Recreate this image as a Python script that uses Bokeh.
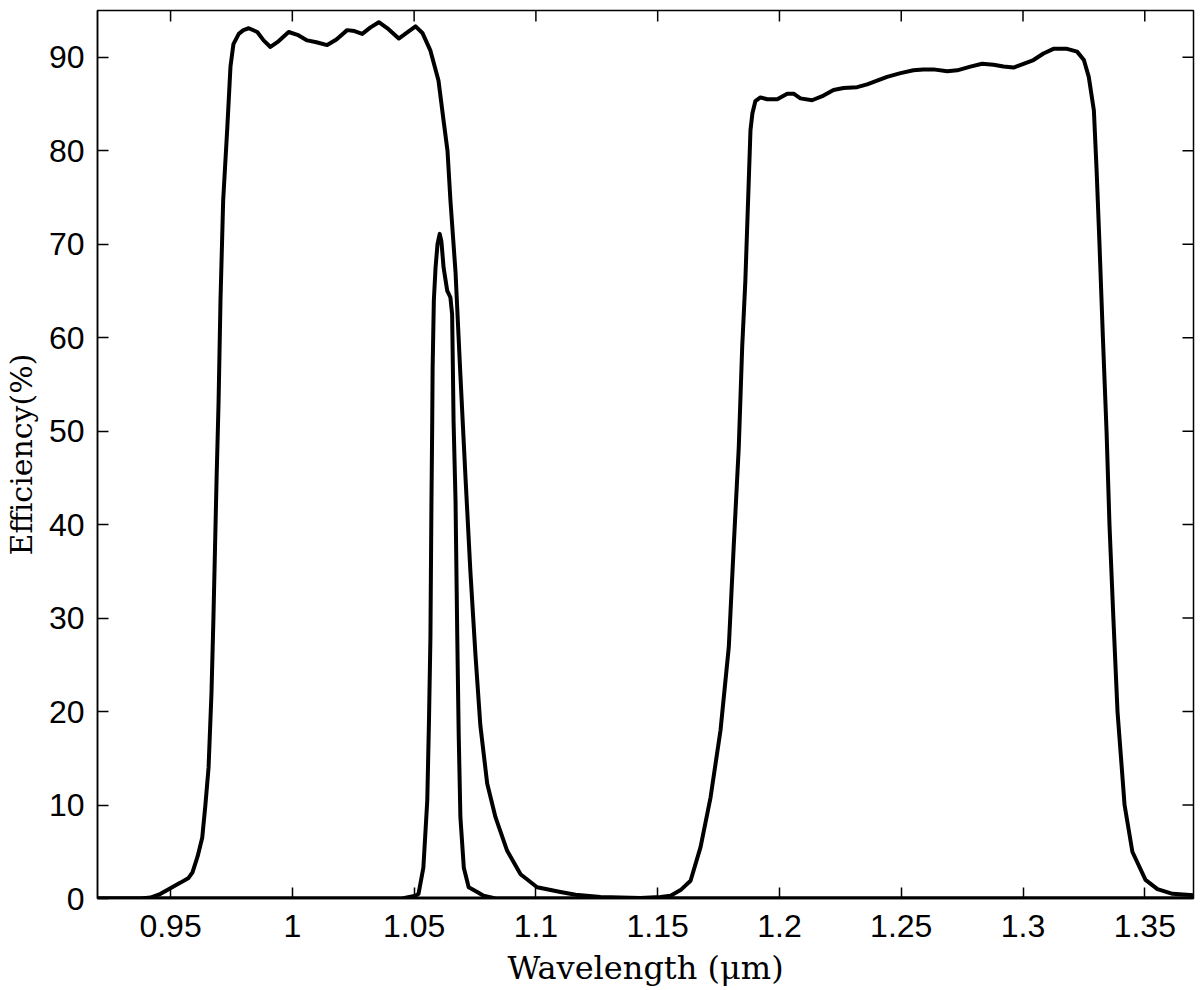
import math
from bokeh.plotting import figure
from bokeh.models import FixedTicker, CustomJSTickFormatter, Range1d
from bokeh.embed import file_html
from bokeh.resources import INLINE

# Curve A: broad band 0.96-1.08 um
wl_a = [0.92, 0.9377, 0.9418, 0.9459, 0.9492, 0.9541, 0.9574, 0.9590, 0.9611, 0.9630,
        0.9643, 0.9656, 0.9668, 0.9676, 0.9689, 0.9697, 0.9705, 0.9716, 0.9733, 0.9746,
        0.9758, 0.9780, 0.9799, 0.9821, 0.9856, 0.9882, 0.9910, 0.9943, 0.9985, 1.0021,
        1.0061, 1.0099, 1.0143, 1.0181, 1.0225, 1.0255, 1.0287, 1.0321, 1.0355, 1.0395,
        1.0437, 1.0469, 1.0506, 1.0534, 1.0567, 1.0600, 1.0621, 1.0637, 1.0649, 1.0670,
        1.0690, 1.0711, 1.0731, 1.0752, 1.0772, 1.0800, 1.0834, 1.0882, 1.0937, 1.1005,
        1.1101, 1.1163, 1.1265, 1.1429, 1.16, 1.37]
eff_a = [0.0, 0.0, 0.1, 0.5, 1.0, 1.7, 2.2, 2.8, 4.5, 6.5,
         10.0, 14.0, 22.0, 30.0, 45.0, 53.0, 64.0, 74.7, 82.5, 89.0,
         91.4, 92.5, 92.9, 93.1, 92.7, 91.8, 91.1, 91.7, 92.7, 92.4,
         91.8, 91.6, 91.3, 91.9, 92.9, 92.8, 92.5, 93.2, 93.75, 93.0,
         92.0, 92.6, 93.3, 92.6, 90.7, 87.5, 83.2, 80.0, 74.7, 67.0,
         56.0, 45.0, 35.0, 26.0, 18.5, 12.3, 8.7, 5.1, 2.6, 1.2,
         0.7, 0.4, 0.15, 0.05, 0.0, 0.0]

# Curve B: narrow band near 1.06 um
wl_b = [0.92, 1.045, 1.0506, 1.0518, 1.0538, 1.0554, 1.0561, 1.0567, 1.0571, 1.0574,
        1.0576, 1.0581, 1.0588, 1.0596, 1.0605, 1.0612, 1.0621, 1.0636, 1.0642, 1.0649,
        1.0656, 1.0659, 1.0662, 1.0670, 1.0677, 1.0683, 1.0690, 1.0704, 1.0724, 1.0759,
        1.0785, 1.0834, 1.37]
eff_b = [0.0, 0.0, 0.3, 0.5, 3.3, 10.5, 19.0, 28.0, 42.0, 50.0,
         56.8, 64.0, 67.5, 70.0, 71.1, 70.3, 67.5, 65.0, 64.7, 64.3,
         62.5, 57.0, 51.0, 42.6, 28.3, 17.6, 8.7, 3.3, 1.2, 0.7,
         0.3, 0.0, 0.0]

# Curve C: band 1.17-1.34 um
wl_c = [0.92, 1.13, 1.1429, 1.1512, 1.1553, 1.1594, 1.1635, 1.1676, 1.1717, 1.1758,
        1.1792, 1.1812, 1.1833, 1.1847, 1.1860, 1.1874, 1.1881, 1.1889, 1.1901, 1.1922,
        1.1950, 1.1991, 1.2032, 1.2058, 1.2086, 1.2134, 1.2181, 1.2222, 1.2263, 1.2319,
        1.2360, 1.2442, 1.2497, 1.2550, 1.2591, 1.2632, 1.2689, 1.2730, 1.2784, 1.2832,
        1.2879, 1.2920, 1.2961, 1.3002, 1.3043, 1.3084, 1.3125, 1.3181, 1.3222, 1.3250,
        1.3270, 1.3291, 1.3302, 1.3314, 1.3328, 1.3343, 1.3355, 1.3371, 1.3388, 1.3417,
        1.3449, 1.3503, 1.3552, 1.3614, 1.37]
eff_c = [0.0, 0.0, 0.05, 0.15, 0.3, 0.9, 1.9, 5.5, 10.8, 18.0,
         26.9, 37.6, 48.3, 59.0, 66.1, 76.8, 82.2, 84.0, 85.3, 85.7,
         85.5, 85.5, 86.1, 86.1, 85.6, 85.4, 85.9, 86.5, 86.7, 86.8,
         87.1, 87.9, 88.3, 88.6, 88.7, 88.7, 88.5, 88.6, 89.0, 89.3,
         89.2, 89.0, 88.9, 89.3, 89.7, 90.4, 90.9, 90.9, 90.6, 89.7,
         87.9, 84.3, 78.0, 70.0, 60.0, 50.0, 40.0, 30.0, 20.0, 10.0,
         5.0, 2.0, 1.0, 0.5, 0.35]

x_ticks = [0.95, 1.0, 1.05, 1.1, 1.15, 1.2, 1.25, 1.3, 1.35]
y_ticks = [0, 10, 20, 30, 40, 50, 60, 70, 80, 90]
x_min, x_max = 0.92, 1.37
y_min, y_max = 0, 95

p = figure(width=1200, height=990,
           x_range=Range1d(x_min, x_max), y_range=Range1d(y_min, y_max),
           output_backend="svg", toolbar_location=None,
           min_border_left=97, min_border_right=7, min_border_top=10, min_border_bottom=92)
p.grid.visible = False
p.outline_line_color = "black"
p.outline_line_width = 1.5
p.background_fill_color = "white"
p.border_fill_color = "white"

for xs, ys in [(wl_a, eff_a), (wl_b, eff_b), (wl_c, eff_c)]:
    p.line(xs, ys, line_color="black", line_width=4, line_join="round", line_cap="round")

# inward ticks mirrored on the top and right edges of the box
p.ray(x=x_ticks, y=[y_max] * len(x_ticks), length=11, length_units="screen",
      angle=-math.pi / 2, line_color="black", line_width=1.5)
p.ray(x=[x_max] * len(y_ticks), y=y_ticks, length=11, length_units="screen",
      angle=math.pi, line_color="black", line_width=1.5)

fmt = CustomJSTickFormatter(code="return String(Number(tick.toFixed(4)));")

for ax, ticks in [(p.xaxis[0], x_ticks), (p.yaxis[0], y_ticks)]:
    ax.ticker = FixedTicker(ticks=ticks)
    ax.major_tick_in = 11
    ax.major_tick_out = 0
    ax.minor_tick_in = 0
    ax.minor_tick_out = 0
    ax.axis_line_color = "black"
    ax.axis_line_width = 1.5
    ax.major_tick_line_color = "black"
    ax.major_tick_line_width = 1.5
    ax.major_label_text_font = "Liberation Sans"
    ax.major_label_text_font_size = "32px"
    ax.major_label_text_color = "black"
    ax.axis_label_text_font = "DejaVu Serif"
    ax.axis_label_text_font_style = "normal"
    ax.axis_label_text_color = "black"

p.xaxis[0].formatter = fmt
p.xaxis[0].axis_label = "Wavelength (μm)"
p.xaxis[0].axis_label_text_font_size = "32px"
p.xaxis[0].major_label_standoff = 16
p.xaxis[0].axis_label_standoff = 9

p.yaxis[0].axis_label = "Efficiency(%)"
p.yaxis[0].axis_label_text_font_size = "30px"
p.yaxis[0].major_label_standoff = 13
p.yaxis[0].axis_label_standoff = 7

open("out.html", "w").write(file_html(p, INLINE))
